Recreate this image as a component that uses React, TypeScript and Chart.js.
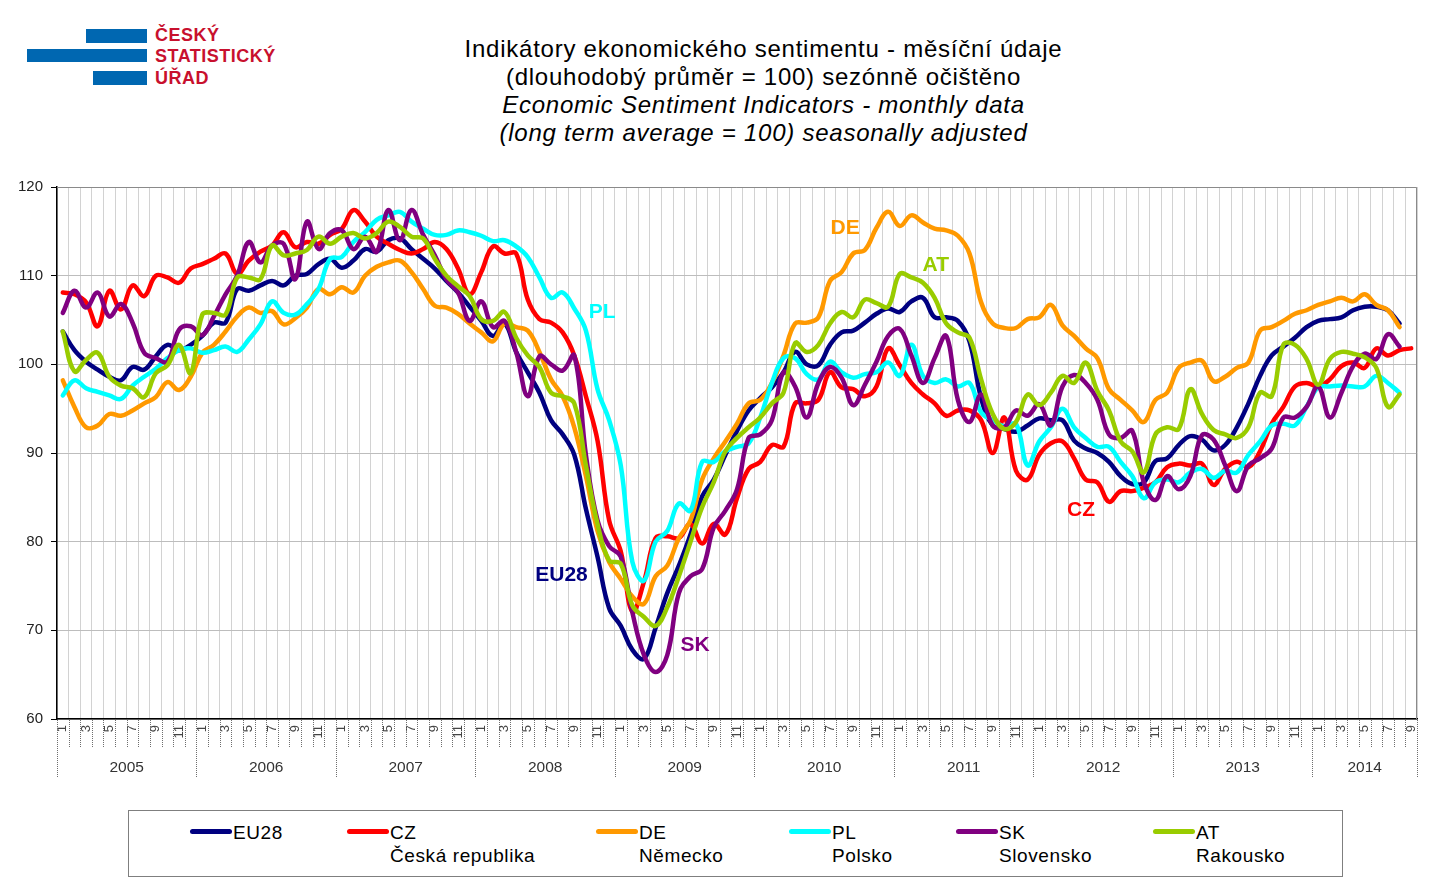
import { useEffect, useRef } from 'react';
import { Chart, registerables } from 'chart.js';

Chart.register(...registerables);

const FONT = '"Liberation Sans", Arial, sans-serif';

// kategorie: měsíce 1/2005 – 9/2014
const years = [2005, 2006, 2007, 2008, 2009, 2010, 2011, 2012, 2013, 2014];
const monthNumbers = ['1', '2', '3', '4', '5', '6', '7', '8', '9', '10', '11', '12'];
const monthsInLastYear = 9;

const categories: string[] = years.flatMap((year, yi) =>
  monthNumbers.slice(0, yi === years.length - 1 ? monthsInLastYear : 12).map((m) => `${year}-${m}`)
);

const yTicks = [60, 70, 80, 90, 100, 110, 120];

const eu28 = [
  103.7, 101.6, 100.3, 99.4, 98.6, 98.2, 99.7, 99.4, 100.9, 102.2, 101.6, 102.2,
  103.2, 104.7, 104.7, 108.5, 108.3, 108.9, 109.4, 108.9, 110.0, 110.2, 111.3, 111.9,
  110.9, 111.7, 113.0, 112.7, 114.0, 114.2, 113.0, 111.9, 110.8, 109.4, 108.1, 106.5,
  104.9, 103.2, 104.6, 101.4, 99.1, 96.8, 93.7, 92.1, 89.8, 83.7, 78.3, 72.5,
  70.5, 67.8, 66.8, 70.3, 74.2, 77.3, 80.8, 85.1, 87.0, 89.8, 92.5, 94.8,
  96.2, 97.4, 99.1, 101.4, 100.0, 99.9, 102.2, 103.6, 103.8, 104.7, 105.7, 106.3,
  105.9, 107.1, 107.5, 105.3, 105.3, 104.9, 102.6, 96.2, 93.1, 92.7, 92.4, 93.1,
  93.9, 93.7, 93.7, 91.4, 90.5, 90.0, 89.0, 87.4, 86.5, 86.7, 89.1, 89.4,
  90.9, 91.9, 91.5, 90.3, 90.9, 92.9, 95.6, 98.7, 101.0, 102.0, 103.0, 104.2,
  104.9, 105.1, 105.3, 106.1, 106.5, 106.5, 106.1, 104.6,
];

const cz = [
  108.1, 107.9, 107.0, 104.3, 108.3, 106.2, 108.9, 107.7, 110.0, 109.8, 109.2, 110.8,
  111.3, 111.9, 112.5, 110.2, 111.7, 112.7, 113.4, 114.9, 113.2, 113.8, 113.6, 114.6,
  115.3, 117.4, 116.1, 114.4, 113.6, 112.9, 112.5, 113.0, 113.8, 113.0, 110.8, 107.9,
  110.4, 113.3, 112.5, 112.5, 107.3, 105.1, 104.7, 103.6, 101.0, 96.4, 91.4, 82.4,
  78.9, 72.1, 75.5, 80.4, 80.6, 80.4, 82.0, 79.8, 82.0, 80.8, 84.9, 88.2,
  89.0, 90.9, 90.7, 95.6, 95.6, 96.0, 99.1, 97.4, 97.2, 96.4, 97.5, 101.8,
  99.9, 97.9, 96.6, 95.6, 94.2, 94.8, 94.8, 93.7, 90.0, 94.0, 88.0, 87.0,
  89.8, 91.1, 91.3, 89.4, 87.0, 86.7, 84.5, 85.7, 85.7, 86.1, 86.7, 88.4,
  88.8, 88.6, 88.8, 86.4, 88.2, 89.0, 88.4, 90.2, 93.3, 95.2, 97.5, 97.9,
  97.5, 98.3, 99.8, 100.2, 99.6, 101.8, 101.0, 101.6, 101.8,
];

const de = [
  98.2, 95.2, 92.9, 93.1, 94.4, 94.2, 94.8, 95.6, 96.3, 98.0, 97.1, 98.6,
  101.3, 102.2, 103.7, 105.4, 106.4, 105.8, 106.0, 104.5, 105.2, 106.4, 108.5, 107.9,
  108.7, 108.1, 110.0, 111.0, 111.5, 111.7, 110.4, 108.5, 106.6, 106.4, 105.7, 104.6,
  103.6, 102.6, 104.6, 104.2, 103.8, 101.4, 98.3, 96.4, 92.9, 87.4, 81.2, 77.7,
  75.8, 73.8, 73.0, 76.1, 77.3, 80.4, 82.4, 87.0, 89.4, 91.3, 93.3, 95.6,
  96.0, 97.9, 101.0, 104.6, 104.7, 105.3, 109.4, 110.4, 112.5, 112.9, 115.4, 117.2,
  115.6, 116.8, 116.0, 115.3, 115.1, 114.5, 112.5, 107.0, 104.6, 104.1, 104.1, 105.1,
  105.3, 106.7, 104.4, 103.2, 101.8, 100.7, 97.2, 96.0, 94.8, 93.5, 96.0, 96.8,
  99.6, 100.2, 100.4, 98.1, 98.6, 99.6, 100.2, 103.8, 104.2, 104.9, 105.7, 106.1,
  106.7, 107.1, 107.5, 107.1, 107.9, 106.7, 106.1, 104.2,
];

const pl = [
  96.5, 98.2, 97.3, 96.9, 96.5, 96.1, 97.6, 98.6, 99.5, 100.7, 101.6, 101.8,
  101.3, 101.6, 102.0, 101.4, 102.8, 104.5, 107.1, 105.8, 105.6, 106.8, 108.5, 111.9,
  112.1, 113.8, 114.9, 116.3, 116.8, 117.2, 116.1, 115.3, 114.6, 114.6, 115.1, 114.9,
  114.5, 113.9, 114.0, 113.3, 112.1, 109.8, 107.5, 108.1, 106.3, 103.8, 97.2, 93.7,
  88.6, 77.7, 75.6, 80.0, 81.2, 84.3, 83.5, 89.0, 89.0, 90.2, 90.7, 91.1,
  94.0, 97.9, 100.7, 100.7, 98.9, 98.3, 100.3, 99.1, 98.5, 98.9, 99.1, 100.2,
  98.7, 102.2, 98.7, 97.9, 98.3, 97.5, 97.9, 94.6, 93.7, 93.0, 93.3, 88.6,
  91.3, 92.9, 95.0, 92.9, 91.7, 90.7, 90.7, 89.0, 87.4, 84.9, 86.7, 87.0,
  86.7, 87.8, 88.2, 87.2, 88.0, 87.8, 89.8, 91.3, 93.1, 93.3, 93.1, 95.2,
  97.4, 97.5, 97.6, 97.5, 97.5, 98.7, 97.9, 96.8,
];

const sk = [
  105.8, 108.3, 106.4, 108.1, 105.4, 106.8, 104.7, 101.3, 100.7, 100.3, 103.9, 104.3,
  103.3, 105.4, 107.9, 110.0, 113.8, 111.5, 113.4, 113.6, 109.6, 116.1, 113.0, 114.8,
  115.1, 113.0, 114.4, 112.7, 117.4, 114.0, 117.4, 114.6, 112.3, 109.6, 108.1, 104.9,
  107.1, 104.2, 104.9, 101.4, 96.4, 100.9, 100.0, 99.3, 101.0, 89.8, 82.4, 79.5,
  78.3, 72.0, 67.2, 65.3, 67.2, 74.2, 76.1, 76.9, 81.6, 83.5, 85.9, 91.7,
  92.1, 93.7, 99.1, 97.5, 94.0, 97.9, 99.7, 98.5, 95.4, 97.7, 100.3, 103.2,
  104.0, 101.0, 97.9, 100.7, 103.2, 96.0, 93.5, 96.6, 93.1, 92.9, 94.8, 94.2,
  95.5, 93.1, 97.5, 98.8, 97.9, 96.0, 92.1, 91.7, 92.5, 86.7, 84.7, 87.4,
  85.9, 87.4, 92.0, 91.5, 88.6, 85.7, 88.6, 89.4, 90.5, 94.0, 94.0, 95.2,
  97.5, 94.0, 96.8, 99.8, 101.2, 100.6, 103.4, 102.0,
];

const at = [
  103.7, 99.2, 100.5, 101.3, 98.6, 97.6, 97.3, 96.3, 99.0, 99.9, 102.2, 99.0,
  105.6, 105.8, 105.6, 109.8, 109.8, 109.6, 113.4, 112.3, 112.5, 112.9, 114.4, 113.6,
  114.4, 114.8, 114.2, 114.8, 116.1, 115.5, 114.4, 114.2, 111.9, 110.0, 108.8, 107.7,
  105.1, 104.9, 105.9, 103.0, 101.0, 99.7, 96.8, 96.4, 95.6, 88.6, 82.0, 77.9,
  77.5, 72.8, 71.5, 70.5, 72.6, 76.1, 80.0, 83.9, 86.7, 90.2, 91.7, 92.9,
  94.0, 95.6, 96.8, 102.4, 101.4, 102.2, 104.6, 105.9, 105.3, 107.3, 106.9, 106.5,
  110.2, 109.8, 109.2, 107.5, 104.6, 103.6, 103.0, 98.3, 94.4, 92.7, 93.5, 96.6,
  95.4, 96.8, 98.7, 97.9, 100.2, 97.0, 94.8, 91.3, 90.2, 87.8, 92.1, 92.9,
  92.7, 97.2, 94.4, 92.6, 92.1, 91.7, 92.9, 96.8, 96.4, 102.2, 102.2, 100.6,
  97.7, 100.6, 101.4, 101.2, 100.8, 99.6, 95.2, 96.6,
];

const series = [
  { code: 'EU28', name: '', data: eu28, color: '#000080' },
  { code: 'CZ', name: 'Česká republika', data: cz, color: '#FF0000' },
  { code: 'DE', name: 'Německo', data: de, color: '#FF9900' },
  { code: 'PL', name: 'Polsko', data: pl, color: '#00FFFF' },
  { code: 'SK', name: 'Slovensko', data: sk, color: '#800080' },
  { code: 'AT', name: 'Rakousko', data: at, color: '#99CC00' },
];

// popisky řad přímo v grafu (index měsíce, hodnota)
const seriesTags = [
  { text: 'DE', color: '#FF9900', at: 67.3, value: 115.3 },
  { text: 'AT', color: '#99CC00', at: 75.1, value: 111.2 },
  { text: 'PL', color: '#00FFFF', at: 46.4, value: 105.9 },
  { text: 'EU28', color: '#000080', at: 42.9, value: 76.2 },
  { text: 'SK', color: '#800080', at: 54.4, value: 68.3 },
  { text: 'CZ', color: '#FF0000', at: 87.6, value: 83.5 },
];

const legendLeft = [190, 347, 596, 789, 956, 1153];

const titleLines = [
  { text: 'Indikátory ekonomického sentimentu - měsíční údaje', italic: false },
  { text: '(dlouhodobý průměr = 100) sezónně očištěno', italic: false },
  { text: 'Economic Sentiment Indicators - monthly data', italic: true },
  { text: '(long term average = 100) seasonally adjusted', italic: true },
];

const decorPlugin = {
  id: 'decor',
  afterDatasetsDraw(chart: any) {
    const { ctx, scales } = chart;
    const x = scales.x;
    const y = scales.y;
    ctx.save();
    ctx.font = `bold 21px ${FONT}`;
    ctx.textAlign = 'center';
    ctx.textBaseline = 'middle';
    seriesTags.forEach((t) => {
      ctx.fillStyle = t.color;
      ctx.fillText(t.text, x.getPixelForValue(t.at), y.getPixelForValue(t.value));
    });
    ctx.restore();
  },
  afterDraw(chart: any) {
    const { ctx, chartArea, scales } = chart;
    const x = scales.x;
    const edge = (b: number) => x.getPixelForValue(b - 0.5);
    const total = categories.length;
    ctx.save();
    // rámeček nahoře a vpravo
    ctx.strokeStyle = '#8a8a8a';
    ctx.lineWidth = 1;
    ctx.beginPath();
    ctx.moveTo(chartArea.left, chartArea.top + 0.5);
    ctx.lineTo(chartArea.right - 0.5, chartArea.top + 0.5);
    ctx.lineTo(chartArea.right - 0.5, chartArea.bottom);
    ctx.stroke();

    // tečkované oddělovače měsíců a roků
    ctx.setLineDash([1, 1]);
    ctx.strokeStyle = '#6e6e6e';
    for (let b = 0; b <= total; b++) {
      const len = b % 12 === 0 || b === total ? 59 : 28;
      const px = Math.round(edge(b)) + 0.5;
      ctx.beginPath();
      ctx.moveTo(px, chartArea.bottom + 1);
      ctx.lineTo(px, chartArea.bottom + len);
      ctx.stroke();
    }
    ctx.setLineDash([]);

    // roky
    ctx.font = `15.5px ${FONT}`;
    ctx.fillStyle = '#333';
    ctx.textAlign = 'center';
    ctx.textBaseline = 'middle';
    years.forEach((year, yi) => {
      const start = yi * 12;
      const end = Math.min(start + 12, total);
      ctx.fillText(String(year), (edge(start) + edge(end)) / 2, chartArea.bottom + 49);
    });
    ctx.restore();
  },
};

function SentimentChart() {
  const canvasRef = useRef<HTMLCanvasElement>(null);
  const chartRef = useRef<Chart | null>(null);

  useEffect(() => {
    if (!canvasRef.current) return;
    if (chartRef.current) chartRef.current.destroy();

    chartRef.current = new Chart(canvasRef.current, {
      type: 'line',
      data: {
        labels: categories,
        datasets: series.map((s, i) => ({
          label: s.code,
          data: s.data,
          borderColor: s.color,
          backgroundColor: s.color,
          borderWidth: 4.5,
          pointRadius: 0,
          tension: 0.4,
          fill: false,
          borderCapStyle: 'round' as const,
          borderJoinStyle: 'round' as const,
          order: series.length - i,
        })),
      },
      options: {
        animation: false,
        responsive: true,
        maintainAspectRatio: false,
        events: [],
        layout: { padding: { top: 17, right: 23, left: 0, bottom: 0 } },
        plugins: {
          legend: { display: false },
          tooltip: { enabled: false },
          title: { display: false },
        },
        scales: {
          x: {
            type: 'category',
            offset: true,
            grid: { offset: true, color: '#d2d2d2', drawTicks: false },
            border: { color: '#000', width: 1.5 },
            ticks: {
              autoSkip: false,
              minRotation: 90,
              maxRotation: 90,
              padding: 6,
              color: '#444',
              font: { family: FONT, size: 13 },
              callback: (_v: any, idx: number) => (idx % 2 === 0 ? categories[idx].split('-')[1] : ''),
            },
            afterFit: (s: any) => {
              s.height = 71;
            },
          },
          y: {
            min: yTicks[0],
            max: yTicks[yTicks.length - 1],
            afterBuildTicks: (s: any) => {
              s.ticks = yTicks.map((v) => ({ value: v }));
            },
            grid: { color: '#bdbdbd', tickLength: 6, tickColor: '#000' },
            border: { color: '#000', width: 1.5 },
            ticks: {
              padding: 8,
              color: '#222',
              font: { family: FONT, size: 15 },
            },
            afterFit: (s: any) => {
              s.width = 57;
            },
          },
        },
      },
      plugins: [decorPlugin],
    });

    return () => {
      if (chartRef.current) {
        chartRef.current.destroy();
        chartRef.current = null;
      }
    };
  }, []);

  return (
    <div style={{ position: 'absolute', left: 0, top: 170, width: 1440, height: 620 }}>
      <canvas ref={canvasRef} />
    </div>
  );
}

function Logo() {
  const bar = (left: number, top: number, width: number) => (
    <div style={{ position: 'absolute', left, top, width, height: 13.5, background: '#0067B1' }} />
  );
  return (
    <>
      {bar(86, 29, 61)}
      {bar(27, 48.5, 120)}
      {bar(93, 71, 54)}
      <div
        style={{
          position: 'absolute',
          left: 155,
          top: 24.5,
          fontFamily: FONT,
          fontWeight: 'bold',
          fontSize: 18,
          lineHeight: '21.5px',
          letterSpacing: 0.5,
          color: '#C8102E',
          whiteSpace: 'nowrap',
        }}
      >
        <div>ČESKÝ</div>
        <div>STATISTICKÝ</div>
        <div>ÚŘAD</div>
      </div>
    </>
  );
}

function Legend() {
  return (
    <div
      style={{
        position: 'absolute',
        left: 128,
        top: 810,
        width: 1215,
        height: 67,
        border: '1px solid #7f7f7f',
        boxSizing: 'border-box',
      }}
    >
      {series.map((s, i) => (
        <div key={s.code}>
          <div
            style={{
              position: 'absolute',
              left: legendLeft[i] - 128 - 1,
              top: 831 - 810 - 1 - 2,
              width: 42,
              height: 4.5,
              borderRadius: 2.5,
              background: s.color,
            }}
          />
          <div
            style={{
              position: 'absolute',
              left: legendLeft[i] - 128 - 1 + 43,
              top: 821 - 810 - 1,
              fontFamily: FONT,
              fontSize: 19,
              lineHeight: '23px',
              letterSpacing: 0.6,
              color: '#000',
              whiteSpace: 'nowrap',
            }}
          >
            <div>{s.code}</div>
            {s.name && <div>{s.name}</div>}
          </div>
        </div>
      ))}
    </div>
  );
}

export default function App() {
  return (
    <div
      style={{
        position: 'absolute',
        left: 0,
        top: 0,
        width: 1440,
        height: 889,
        background: '#fff',
        overflow: 'hidden',
      }}
    >
      <Logo />
      <div
        style={{
          position: 'absolute',
          left: 363.5,
          top: 35,
          width: 800,
          textAlign: 'center',
          fontFamily: FONT,
          fontSize: 24,
          lineHeight: '28px',
          letterSpacing: 0.75,
          color: '#000',
        }}
      >
        {titleLines.map((l) => (
          <div key={l.text} style={{ fontStyle: l.italic ? 'italic' : 'normal' }}>
            {l.text}
          </div>
        ))}
      </div>
      <SentimentChart />
      <Legend />
    </div>
  );
}
